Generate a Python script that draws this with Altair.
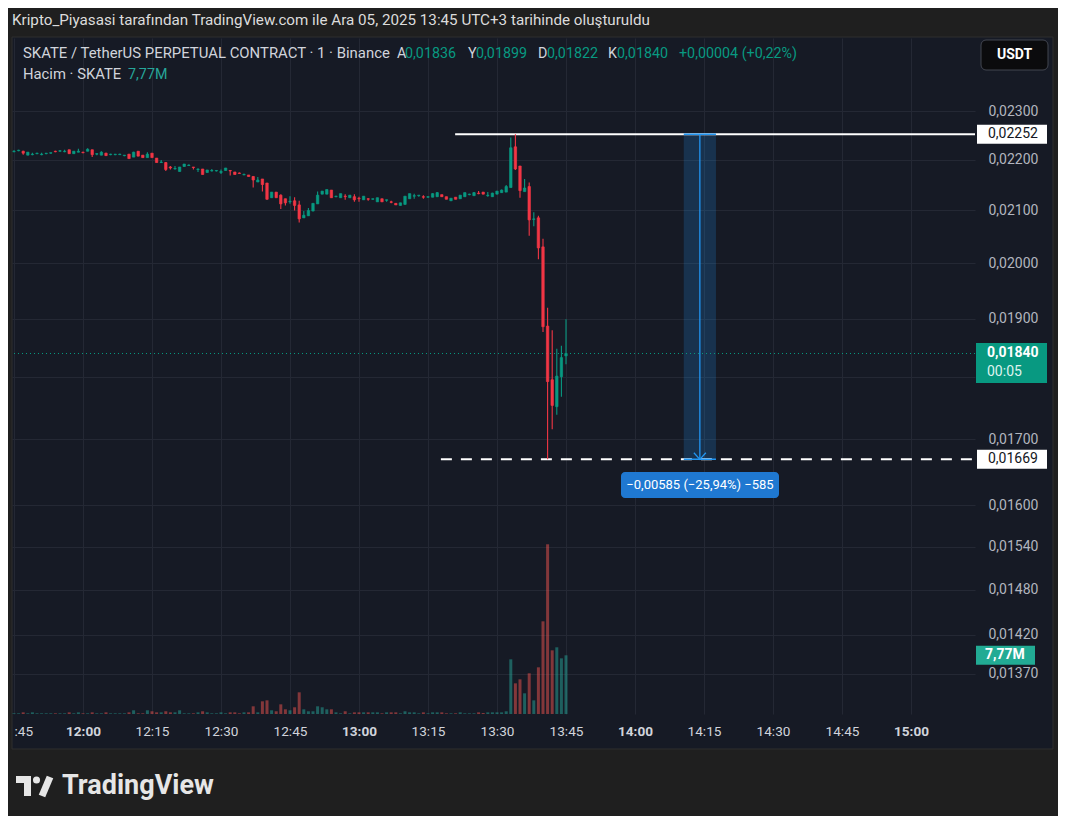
import altair as alt
import pandas as pd

# ---------------- data ----------------
start_time = "11:45"          # first 1-minute candle
opens = [
    0.02216, 0.02218, 0.02217, 0.02209, 0.02210, 0.02212, 0.02210, 0.02212, 0.02213, 0.02217,
    0.02217, 0.02216, 0.02220, 0.02212, 0.02215, 0.02215, 0.02217, 0.02220, 0.02211, 0.02209,
    0.02213, 0.02210, 0.02210, 0.02210, 0.02208, 0.02211, 0.02205, 0.02217, 0.02209, 0.02204,
    0.02213, 0.02203, 0.02194, 0.02194, 0.02185, 0.02181, 0.02176, 0.02186, 0.02188, 0.02185,
    0.02180, 0.02181, 0.02174, 0.02177, 0.02177, 0.02174, 0.02178, 0.02178, 0.02175, 0.02173,
    0.02169, 0.02169, 0.02166, 0.02155, 0.02161, 0.02153, 0.02124, 0.02135, 0.02129, 0.02122,
    0.02116, 0.02118, 0.02110, 0.02085, 0.02089, 0.02098, 0.02112, 0.02131, 0.02131, 0.02139,
    0.02126, 0.02124, 0.02127, 0.02124, 0.02126, 0.02123, 0.02120, 0.02122, 0.02121, 0.02116,
    0.02122, 0.02119, 0.02116, 0.02113, 0.02109, 0.02111, 0.02122, 0.02127, 0.02128, 0.02126,
    0.02125, 0.02125, 0.02126, 0.02130, 0.02126, 0.02118, 0.02125, 0.02122, 0.02126, 0.02130,
    0.02128, 0.02133, 0.02135, 0.02128, 0.02126, 0.02131, 0.02134, 0.02135, 0.02144, 0.02226,
    0.02187, 0.02136, 0.02146, 0.02082, 0.02085, 0.02030, 0.01887, 0.01796, 0.01752, 0.01801,
    0.01836]
highs = [
    0.02219, 0.02220, 0.02218, 0.02215, 0.02214, 0.02214, 0.02214, 0.02213, 0.02214, 0.02218,
    0.02219, 0.02220, 0.02220, 0.02217, 0.02222, 0.02216, 0.02223, 0.02220, 0.02213, 0.02217,
    0.02214, 0.02212, 0.02211, 0.02212, 0.02209, 0.02211, 0.02216, 0.02217, 0.02209, 0.02215,
    0.02213, 0.02203, 0.02199, 0.02195, 0.02187, 0.02187, 0.02185, 0.02191, 0.02190, 0.02185,
    0.02182, 0.02181, 0.02179, 0.02181, 0.02179, 0.02180, 0.02183, 0.02178, 0.02175, 0.02174,
    0.02172, 0.02169, 0.02167, 0.02165, 0.02161, 0.02153, 0.02135, 0.02135, 0.02131, 0.02122,
    0.02127, 0.02125, 0.02118, 0.02098, 0.02104, 0.02113, 0.02136, 0.02137, 0.02140, 0.02139,
    0.02128, 0.02132, 0.02131, 0.02129, 0.02131, 0.02126, 0.02127, 0.02123, 0.02122, 0.02124,
    0.02122, 0.02120, 0.02118, 0.02113, 0.02114, 0.02127, 0.02132, 0.02132, 0.02129, 0.02129,
    0.02127, 0.02133, 0.02135, 0.02130, 0.02126, 0.02123, 0.02125, 0.02129, 0.02134, 0.02132,
    0.02135, 0.02137, 0.02135, 0.02135, 0.02134, 0.02137, 0.02140, 0.02149, 0.02245, 0.02252,
    0.02187, 0.02161, 0.02154, 0.02096, 0.02089, 0.02045, 0.01919, 0.01880, 0.01848, 0.01853,
    0.01899]
lows = [
    0.02215, 0.02217, 0.02210, 0.02209, 0.02209, 0.02211, 0.02209, 0.02211, 0.02212, 0.02215,
    0.02216, 0.02215, 0.02212, 0.02212, 0.02215, 0.02213, 0.02217, 0.02205, 0.02209, 0.02209,
    0.02208, 0.02209, 0.02209, 0.02210, 0.02207, 0.02202, 0.02205, 0.02207, 0.02204, 0.02204,
    0.02204, 0.02194, 0.02193, 0.02177, 0.02180, 0.02180, 0.02176, 0.02186, 0.02187, 0.02180,
    0.02175, 0.02170, 0.02174, 0.02176, 0.02176, 0.02171, 0.02178, 0.02168, 0.02170, 0.02172,
    0.02169, 0.02166, 0.02144, 0.02155, 0.02136, 0.02120, 0.02124, 0.02124, 0.02102, 0.02109,
    0.02112, 0.02099, 0.02076, 0.02085, 0.02089, 0.02098, 0.02112, 0.02131, 0.02131, 0.02124,
    0.02125, 0.02124, 0.02120, 0.02124, 0.02116, 0.02116, 0.02120, 0.02118, 0.02120, 0.02116,
    0.02116, 0.02116, 0.02113, 0.02110, 0.02109, 0.02111, 0.02122, 0.02122, 0.02126, 0.02122,
    0.02124, 0.02125, 0.02126, 0.02126, 0.02121, 0.02118, 0.02121, 0.02122, 0.02126, 0.02129,
    0.02128, 0.02131, 0.02131, 0.02126, 0.02126, 0.02131, 0.02134, 0.02135, 0.02144, 0.02179,
    0.02124, 0.02136, 0.02051, 0.02069, 0.02007, 0.01877, 0.01669, 0.01716, 0.01739, 0.01768,
    0.01822]
closes = [
    0.02217, 0.02219, 0.02213, 0.02215, 0.02211, 0.02213, 0.02211, 0.02213, 0.02214, 0.02216,
    0.02218, 0.02217, 0.02212, 0.02217, 0.02217, 0.02214, 0.02221, 0.02210, 0.02212, 0.02215,
    0.02208, 0.02211, 0.02211, 0.02211, 0.02209, 0.02202, 0.02215, 0.02207, 0.02204, 0.02211,
    0.02204, 0.02194, 0.02195, 0.02180, 0.02183, 0.02182, 0.02185, 0.02191, 0.02189, 0.02184,
    0.02181, 0.02170, 0.02179, 0.02178, 0.02178, 0.02176, 0.02183, 0.02177, 0.02170, 0.02172,
    0.02170, 0.02166, 0.02159, 0.02159, 0.02150, 0.02121, 0.02135, 0.02124, 0.02112, 0.02114,
    0.02117, 0.02109, 0.02083, 0.02090, 0.02099, 0.02113, 0.02129, 0.02137, 0.02140, 0.02124,
    0.02127, 0.02132, 0.02126, 0.02129, 0.02120, 0.02122, 0.02127, 0.02121, 0.02122, 0.02124,
    0.02116, 0.02120, 0.02115, 0.02110, 0.02114, 0.02127, 0.02132, 0.02128, 0.02129, 0.02125,
    0.02126, 0.02132, 0.02134, 0.02126, 0.02121, 0.02123, 0.02121, 0.02129, 0.02134, 0.02131,
    0.02134, 0.02132, 0.02131, 0.02129, 0.02133, 0.02137, 0.02139, 0.02146, 0.02224, 0.02181,
    0.02138, 0.02143, 0.02081, 0.02083, 0.02028, 0.01886, 0.01793, 0.01754, 0.01802, 0.01833,
    0.01840]
volume_m = [
    0.09, 0.09, 0.22, 0.09, 0.22, 0.09, 0.09, 0.09, 0.09, 0.09,
    0.09, 0.09, 0.22, 0.09, 0.22, 0.09, 0.09, 0.22, 0.09, 0.09,
    0.22, 0.09, 0.09, 0.09, 0.09, 0.22, 0.49, 0.09, 0.09, 0.49,
    0.36, 0.22, 0.22, 0.36, 0.22, 0.22, 0.49, 0.09, 0.09, 0.09,
    0.22, 0.36, 0.22, 0.09, 0.09, 0.22, 0.09, 0.22, 0.22, 0.09,
    0.22, 0.22, 1.02, 0.22, 1.68, 1.81, 0.49, 0.36, 1.28, 0.62,
    0.49, 0.89, 2.87, 0.62, 0.36, 0.36, 1.02, 0.89, 0.62, 0.62,
    0.22, 0.09, 0.36, 0.09, 0.22, 0.22, 0.22, 0.22, 0.22, 0.22,
    0.09, 0.22, 0.22, 0.22, 0.09, 0.36, 0.22, 0.22, 0.09, 0.22,
    0.09, 0.22, 0.22, 0.22, 0.09, 0.09, 0.09, 0.22, 0.09, 0.09,
    0.09, 0.22, 0.13, 0.22, 0.22, 0.22, 0.22, 0.36, 7.24, 4.06,
    4.59, 2.74, 5.39, 1.81, 6.18, 12.27, 22.47, 8.43, 8.83, 7.37,
    7.77]

price_ticks = [0.0137, 0.0142, 0.0148, 0.0154, 0.016, 0.017, 0.018,
               0.019, 0.020, 0.021, 0.022, 0.023]
time_ticks = list(range(705, 901, 15))          # 11:45 ... 15:00 (minutes)

range_high = 0.02252
range_low = 0.01669
last_price = 0.01840
last_volume = 7.77
measure_text = "−0,00585 (−25,94%) −585"

# drawing-tool anchors (minutes of day)
ray_high_start = 800.9
ray_low_start = 797.8
measure_t1, measure_t2, measure_tm = 850.6, 857.6, 854.1

# visible ranges of the scales
x_min, x_max = 704.565, 913.913
y_min, y_max = 0.013199, 0.024608
vol_max = 89.5

# ---------------- table ----------------
h0, m0 = map(int, start_time.split(":"))
t0 = h0 * 60 + m0
df = pd.DataFrame({
    "t": [t0 + i for i in range(len(opens))],
    "open": opens, "high": highs, "low": lows, "close": closes, "vol": volume_m,
})

# ---------------- style ----------------
BG_PANEL = "#161a25"
BG_OUT = "#1f1f1f"
GRID = "#242834"
TXT = "#d1d4dc"
AXTXT = "#b2b5be"
UP, DN = "#089981", "#f23645"
VUP, VDN = "#26a69a", "#ef5350"
BLUE = "#2196f3"
FONT = "Roboto"
LEG = 14.3

xs = alt.Scale(domain=[x_min, x_max], nice=False, zero=False, padding=0)
ys = alt.Scale(type="log", domain=[y_min, y_max], nice=False, zero=False, padding=0)
vs = alt.Scale(domain=[0, vol_max], nice=False, zero=False, padding=0)

x_axis = alt.Axis(
    values=time_ticks, title=None, grid=True, gridColor=GRID, gridWidth=1,
    ticks=False, tickSize=0, domain=False, labelPadding=10, labelFontSize=13.6,
    labelColor=TXT, labelFont=FONT, labelFlush=False, labelOverlap=False,
    labelExpr="datum.value == 705 ? ':45' : floor(datum.value / 60) + ':' + "
              "(datum.value % 60 == 0 ? '00' : '' + (datum.value % 60))",
    labelFontWeight={"condition": {"test": "datum.value % 60 === 0", "value": "bold"},
                     "value": "normal"},
    labelAlign={"condition": {"test": "datum.value === 705", "value": "left"},
                "value": "center"},
)
y_axis = alt.Axis(
    orient="right", values=price_ticks, title=None, grid=True, gridColor=GRID,
    gridWidth=1, ticks=False, tickSize=0, domain=False, labelPadding=13,
    labelFontSize=14, labelColor=AXTXT, labelFont=FONT, labelOverlap=False,
    labelFlush=False,
    labelExpr="abs(datum.value - 0.018) < 1e-7 ? '' : "
              "replace(format(datum.value, '.5f'), '.', ',')",
)


def X(field):
    return alt.X(f"{field}:Q", scale=xs, axis=x_axis)


def Y(field):
    return alt.Y(f"{field}:Q", scale=ys, axis=y_axis)


def VY(field):
    return alt.Y(f"{field}:Q", scale=vs, axis=None)


dir_color = alt.condition("datum.close >= datum.open", alt.value(UP), alt.value(DN))
vol_color = alt.condition("datum.close >= datum.open", alt.value(VUP), alt.value(VDN))

one = alt.Data(values=[{"k": 1}])


def box(x1, x2, y1, y2, fill, **kw):
    return alt.Chart(one).mark_rect(fill=fill, **kw).encode(
        x=alt.value(x1), x2=alt.value(x2), y=alt.value(y1), y2=alt.value(y2))


def label(x, y, text, size=LEG, color=TXT, align="left", weight="normal", fnt=FONT):
    return alt.Chart(one).mark_text(
        align=align, baseline="middle", fontSize=size, color=color,
        fontWeight=weight, font=fnt).encode(
        x=alt.value(x), y=alt.value(y), text=alt.value(text))


# ---------------- volume pane ----------------
vol_bars = alt.Chart(df).mark_bar(size=3, opacity=0.5).encode(
    x=X("t"), y=VY("vol"), color=vol_color)
vol_data = alt.Data(values=[{"v": last_volume, "txt": "7,77M"}])
vol_box = alt.Chart(vol_data).mark_rule(color="#22ab94", strokeWidth=19).encode(
    x=alt.value(964), x2=alt.value(1023), y=VY("v"))
vol_txt = alt.Chart(vol_data).mark_text(
    align="left", baseline="middle", fontSize=14, fontWeight="bold",
    color="white", font=FONT).encode(x=alt.value(973), y=VY("v"), text="txt:N")
vol_layer = alt.layer(vol_bars, vol_box, vol_txt)

# ---------------- price pane ----------------
meas = alt.Data(values=[{"t1": measure_t1, "t2": measure_t2, "tm": measure_tm,
                         "p1": range_high, "p2": range_low}])
meas_rect = alt.Chart(meas).mark_rect(fill=BLUE, opacity=0.2).encode(
    x=X("t1"), x2="t2", y=Y("p1"), y2="p2")

last_line = alt.Chart(alt.Data(values=[{"p": last_price}])).mark_rule(
    color=UP, strokeDash=[1, 3], strokeWidth=1).encode(y=Y("p"))

hi_ray = alt.Chart(alt.Data(values=[{"a": ray_high_start, "b": x_max, "p": range_high}])
                   ).mark_rule(color="white", strokeWidth=2).encode(
    x=X("a"), x2="b", y=Y("p"))
lo_ray = alt.Chart(alt.Data(values=[{"a": ray_low_start, "b": x_max, "p": range_low}])
                   ).mark_rule(color="white", strokeWidth=2, strokeDash=[11, 9]).encode(
    x=X("a"), x2="b", y=Y("p"))

meas_edges = alt.Chart(alt.Data(values=[
    {"t1": measure_t1, "t2": measure_t2, "p": range_high},
    {"t1": measure_t1, "t2": measure_t2, "p": range_low}])).mark_rule(
    color=BLUE, strokeWidth=1.5).encode(x=X("t1"), x2="t2", y=Y("p"))
meas_line = alt.Chart(meas).mark_rule(color=BLUE, strokeWidth=1.3).encode(
    x=X("tm"), y=Y("p1"), y2="p2")
meas_arrow = alt.Chart(meas).mark_point(
    shape="M-1,-1.1L0,0L1,-1.1", filled=False, size=144, strokeWidth=1.3,
    color=BLUE, opacity=1).encode(x=X("tm"), y=Y("p2"))

wicks = alt.Chart(df).mark_rule(strokeWidth=1.1).encode(
    x=X("t"), y=Y("low"), y2="high", color=dir_color)
bodies = alt.Chart(df).mark_bar(size=2.4, strokeWidth=0.7).encode(
    x=X("t"), y=Y("open"), y2="close", color=dir_color, stroke=dir_color)

hl_data = alt.Data(values=[{"p": range_high, "txt": "0,02252"},
                           {"p": range_low, "txt": "0,01669"}])
hl_box = alt.Chart(hl_data).mark_rule(color="white", strokeWidth=19).encode(
    x=alt.value(965), x2=alt.value(1035), y=Y("p"))
hl_txt = alt.Chart(hl_data).mark_text(
    align="left", baseline="middle", fontSize=14, color="#131722", font=FONT).encode(
    x=alt.value(976), y=Y("p"), text="txt:N")

lp_data = alt.Data(values=[{"p": last_price, "txt": "0,01840", "cd": "00:05"}])
lp_box = alt.Chart(lp_data).mark_rule(color=UP, strokeWidth=40, yOffset=9.5).encode(
    x=alt.value(964), x2=alt.value(1035), y=Y("p"))
lp_txt = alt.Chart(lp_data).mark_text(
    align="left", baseline="middle", fontSize=14, fontWeight="bold", color="white",
    font=FONT).encode(x=alt.value(975), y=Y("p"), text="txt:N")
lp_cd = alt.Chart(lp_data).mark_text(
    align="left", baseline="middle", fontSize=14, dy=19, color="#dff3ef",
    font=FONT).encode(x=alt.value(975), y=Y("p"), text="cd:N")

price_layer = alt.layer(meas_rect, last_line, hi_ray, lo_ray, meas_edges, meas_line,
                        meas_arrow, wicks, bodies, hl_box, hl_txt, lp_box, lp_txt, lp_cd)

# ---------------- frame, header and annotations ----------------
frame = [
    box(-4, 1046, -30, -1, BG_OUT),
    box(-4, 1046, 711, 778, BG_OUT),
    box(-4, 0, -1, 711, BG_OUT),
    box(1041, 1046, -1, 711, BG_OUT),
    alt.Chart(one).mark_rect(fillOpacity=0, stroke="#2e2e2e", strokeWidth=1).encode(
        x=alt.value(0), x2=alt.value(1041), y=alt.value(-1), y2=alt.value(711)),
]

texts = [
    label(0, -18, "Kripto_Piyasasi tarafından TradingView.com ile Ara 05, 2025 13:45 "
          "UTC+3 tarihinde oluşturuldu", size=15.2, color="#dcdcdc"),
    label(11, 16, "SKATE / TetherUS PERPETUAL CONTRACT · 1 · Binance", size=14.9,
          color=TXT),
    label(385, 16, "A", color=TXT), label(393, 16, "0,01836", color=UP),
    label(456, 16, "Y", color=TXT), label(464, 16, "0,01899", color=UP),
    label(526, 16, "D", color=TXT), label(535, 16, "0,01822", color=UP),
    label(596, 16, "K", color=TXT), label(605, 16, "0,01840", color=UP),
    label(667, 16, "+0,00004 (+0,22%)", color=UP),
    label(11, 37, "Hacim · SKATE", size=14.8, color=TXT),
    label(116, 37, "7,77M", color=VUP),
    # USDT button
    alt.Chart(one).mark_rect(fill="#0b0b0d", stroke="#434651", strokeWidth=1,
                             cornerRadius=5).encode(
        x=alt.value(969), x2=alt.value(1036), y=alt.value(2), y2=alt.value(32)),
    label(1002.5, 17, "USDT", size=14, color="white", align="center", weight="bold"),
    # measurement label
    alt.Chart(one).mark_rect(fill="#1f78d1", cornerRadius=4).encode(
        x=alt.value(609), x2=alt.value(767), y=alt.value(434), y2=alt.value(460)),
    label(688, 447, measure_text, size=13, color="white", align="center"),
    # TradingView logo
    box(4, 19, 738, 745, "#e6e6e6"),
    box(12, 19, 738, 758, "#e6e6e6"),
    alt.Chart(one).mark_point(shape="circle", size=50, filled=True, color="#e6e6e6",
                              opacity=1).encode(x=alt.value(24.5), y=alt.value(742)),
    alt.Chart(one).mark_rule(color="#e6e6e6", strokeWidth=7).encode(
        x=alt.value(38), x2=alt.value(30), y=alt.value(739), y2=alt.value(758)),
    label(50, 748, "TradingView", size=27, color="#e6e6e6", weight="bold"),
]

chart = alt.layer(*frame, vol_layer, price_layer, *texts).resolve_scale(
    y="independent"
).properties(
    width=963, height=676,
    padding={"left": 4, "top": 30, "right": 83, "bottom": 102},
    autosize=alt.AutoSizeParams(type="none"),
    background=BG_PANEL,
).configure_view(strokeWidth=0)

chart.save("out.html", embed_options={"renderer": "svg", "actions": False})
